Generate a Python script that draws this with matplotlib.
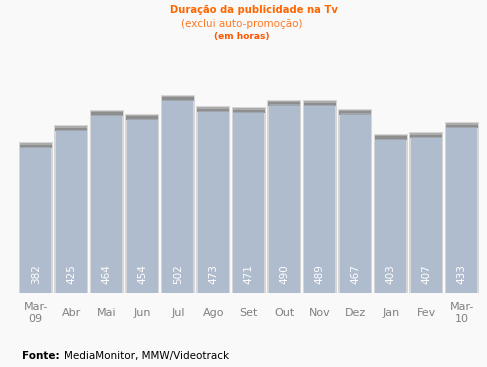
import matplotlib
matplotlib.use("Agg")
import matplotlib.pyplot as plt

months = ["Mar-\n09", "Abr", "Mai", "Jun", "Jul", "Ago", "Set", "Out", "Nov", "Dez", "Jan", "Fev", "Mar-\n10"]
values = [382, 425, 464, 454, 502, 473, 471, 490, 489, 467, 403, 407, 433]

W, H = 487, 367
fig = plt.figure(figsize=(W / 100, H / 100), dpi=100)
fig.patch.set_facecolor("#f9f9f9")
ax = fig.add_axes([0, 0, 1, 1])
ax.set_facecolor("#f9f9f9")

x0, dx = 35.8, 35.5      # pixel centre of first bar, spacing
base, scale = 293, 0.3925  # baseline pixel, px per unit
ax.set_xlim(-x0 / dx, (W - x0) / dx)
ax.set_ylim(-(H - base) / scale, base / scale)
ax.axis("off")

xs = list(range(len(values)))
bw = 0.88
cap = 5 / scale
# shadow/border
ax.bar(xs, [v + 1 / scale for v in values], width=bw + 0.07, color="#d6d6d6",
       edgecolor="none", zorder=1)
ax.bar(xs, values, width=bw, color="#afbccd", edgecolor="none", zorder=2)
# top caps
ax.bar(xs, [cap] * len(values), bottom=[v - cap for v in values], width=bw + 0.03,
       color="#8e8e8e", edgecolor="none", zorder=3)
ax.bar(xs, [cap * 0.3] * len(values), bottom=[v - cap * 0.3 for v in values],
       width=bw + 0.03, color="#acacac", edgecolor="none", zorder=4)
ax.bar(xs, [cap * 0.25] * len(values), bottom=[v - cap for v in values],
       width=bw, color="#a0a6ae", edgecolor="none", zorder=4)

for x, v, m in zip(xs, values, months):
    ax.text(x, 24, str(v), rotation=90, color="white", fontsize=7.5,
            ha="center", va="bottom", zorder=5)
    ax.text(x, -(313 - base) / scale, m, color="#808080", fontsize=8,
            ha="center", va="center", linespacing=1.35, zorder=5)

fig.text(254 / W, 1 - 10 / H, "Duração da publicidade na Tv", color="#ff6600",
         fontsize=7.2, fontweight="bold", ha="center", va="center")
fig.text(242 / W, 1 - 24 / H, "(exclui auto-promoção)", color="#ff7722",
         fontsize=7.5, ha="center", va="center")
fig.text(242 / W, 1 - 36 / H, "(em horas)", color="#ff5500",
         fontsize=6.5, fontweight="bold", ha="center", va="center")

t = fig.text(22 / W, 1 - 356 / H, "Fonte:", color="black", fontsize=7.5,
             fontweight="bold", ha="left", va="center")
fig.canvas.draw()
bb = t.get_window_extent()
fig.text((bb.x1 + 4) / W, 1 - 356 / H, "MediaMonitor, MMW/Videotrack", color="black",
         fontsize=7.5, ha="left", va="center")

fig.savefig("out.png", dpi=100, facecolor=fig.get_facecolor())
